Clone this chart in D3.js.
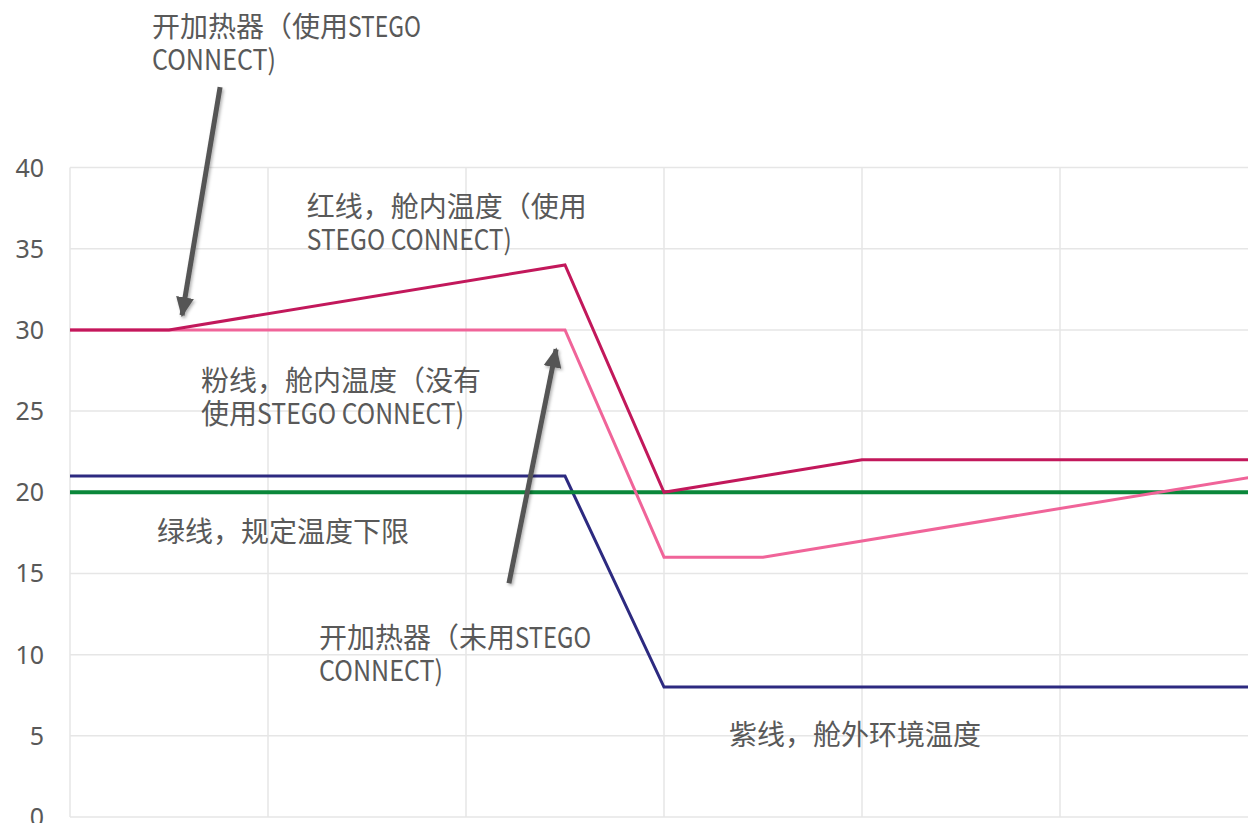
<!DOCTYPE html>
<html lang="zh">
<head>
    <meta charset="UTF-8">
    <title>舱内温度</title>
    <script src="https://d3js.org/d3.v7.min.js"></script>
    <style>
        html, body { margin: 0; padding: 0; background: #fff; overflow: hidden; }
        svg { display: block; }
        .tick-label { font-family: "Noto Sans", "Noto Sans CJK SC", sans-serif; font-size: 25px; fill: #595959; }
        .note { font-family: "Noto Sans CJK SC", sans-serif; font-size: 28px; fill: #595959; }
    </style>
</head>
<body>
<div id="chart"></div>
<script>
    // x positions (grid units) and series values
    const xPoints   = [0, 0.5, 2.5, 3, 3.5, 4, 6];
    const redVals   = [30, 30, 34, 20, 21, 22, 22];   // 舱内温度（使用STEGO CONNECT）
    const pinkVals  = [30, 30, 30, 16, 16, 17, 21];   // 舱内温度（没有使用）
    const purpleVals = [21, 21, 21, 8, 8, 8, 8];      // 舱外环境温度
    const greenVals = [20, 20, 20, 20, 20, 20, 20];   // 规定温度下限
    const yTicks = [0, 5, 10, 15, 20, 25, 30, 35, 40];
    const xGrid = [0, 1, 2, 3, 4, 5, 6];

    // notes: lines made of [text, latinWidth?] pieces, placed in data units
    const notes = [
        { x: 0.414, y: 48.8, lines: [[["开加热器（使用"], ["STEGO", 73]], [["CONNECT)", 124]]] },
        { x: 1.196, y: 37.7, lines: [[["红线，舱内温度（使用"]], [["STEGO CONNECT)", 205]]] },
        { x: 0.662, y: 27.0, lines: [[["粉线，舱内温度（没有"]], [["使用"], ["STEGO CONNECT)", 207]]] },
        { x: 0.439, y: 17.65, lines: [[["绿线，规定温度下限"]]] },
        { x: 1.258, y: 11.14, lines: [[["开加热器（未用"], ["STEGO", 76]], [["CONNECT)", 124]]] },
        { x: 3.328, y: 5.17, lines: [[["紫线，舱外环境温度"]]] }
    ];
    const arrows = [
        { from: [0.758, 44.95], to: [0.566, 30.9] },
        { from: [2.217, 14.4], to: [2.455, 28.8] }
    ];

    const W = 1248, H = 823;
    const x = d3.scaleLinear().domain([0, 6]).range([70, 1258]);
    const y = d3.scaleLinear().domain([0, 40]).range([817, 167.5]);

    const svg = d3.select("#chart").append("svg")
        .attr("width", W).attr("height", H);

    const defs = svg.append("defs");
    const f = defs.append("filter").attr("id", "shadow")
        .attr("x", "-50%").attr("y", "-20%").attr("width", "200%").attr("height", "140%");
    f.append("feDropShadow").attr("dx", 1.5).attr("dy", 2).attr("stdDeviation", 1.5)
        .attr("flood-color", "#000").attr("flood-opacity", 0.3);
    defs.append("marker").attr("id", "head")
        .attr("markerUnits", "userSpaceOnUse")
        .attr("viewBox", "0 0 20 18").attr("refX", 18).attr("refY", 9)
        .attr("markerWidth", 20).attr("markerHeight", 18)
        .attr("orient", "auto")
        .append("path").attr("d", "M0,0 L20,9 L0,18 Z").attr("fill", "#555");

    // grid
    svg.append("g").selectAll("line").data(yTicks).join("line")
        .attr("x1", x(0)).attr("x2", x(6))
        .attr("y1", d => y(d)).attr("y2", d => y(d))
        .attr("stroke", "#e6e6e6").attr("stroke-width", 1.5);
    svg.append("g").selectAll("line").data(xGrid).join("line")
        .attr("x1", d => x(d)).attr("x2", d => x(d))
        .attr("y1", y(40)).attr("y2", y(0))
        .attr("stroke", "#e6e6e6").attr("stroke-width", 1.5);

    // y axis labels
    svg.append("g").selectAll("text").data(yTicks).join("text")
        .attr("class", "tick-label")
        .attr("x", 44).attr("y", d => y(d))
        .attr("dy", "0.36em")
        .attr("text-anchor", "end")
        .text(d => d);

    const line = d3.line().x((d, i) => x(xPoints[i])).y(d => y(d));
    const series = [
        { vals: purpleVals, color: "#2d2a80", w: 3 },
        { vals: greenVals, color: "#0a873a", w: 4 },
        { vals: pinkVals, color: "#f06499", w: 3 },
        { vals: redVals, color: "#c2185b", w: 3 }
    ];
    svg.append("g").selectAll("path").data(series).join("path")
        .attr("d", d => line(d.vals))
        .attr("fill", "none")
        .attr("stroke", d => d.color)
        .attr("stroke-width", d => d.w)
        .attr("stroke-linejoin", "miter");

    // arrows
    svg.append("g").attr("filter", "url(#shadow)").selectAll("line").data(arrows).join("line")
        .attr("x1", d => x(d.from[0])).attr("y1", d => y(d.from[1]))
        .attr("x2", d => x(d.to[0])).attr("y2", d => y(d.to[1]))
        .attr("stroke", "#555").attr("stroke-width", 5)
        .attr("marker-end", "url(#head)");

    // notes
    notes.forEach(n => {
        n.lines.forEach((ln, li) => {
            const t = svg.append("text").attr("class", "note")
                .attr("x", x(n.x)).attr("y", y(n.y) + li * 33)
                .attr("dominant-baseline", "central");
            ln.forEach(p => {
                const s = t.append("tspan").text(p[0]);
                if (p[1]) s.attr("textLength", p[1]).attr("lengthAdjust", "spacingAndGlyphs");
            });
        });
    });
</script>
</body>
</html>
